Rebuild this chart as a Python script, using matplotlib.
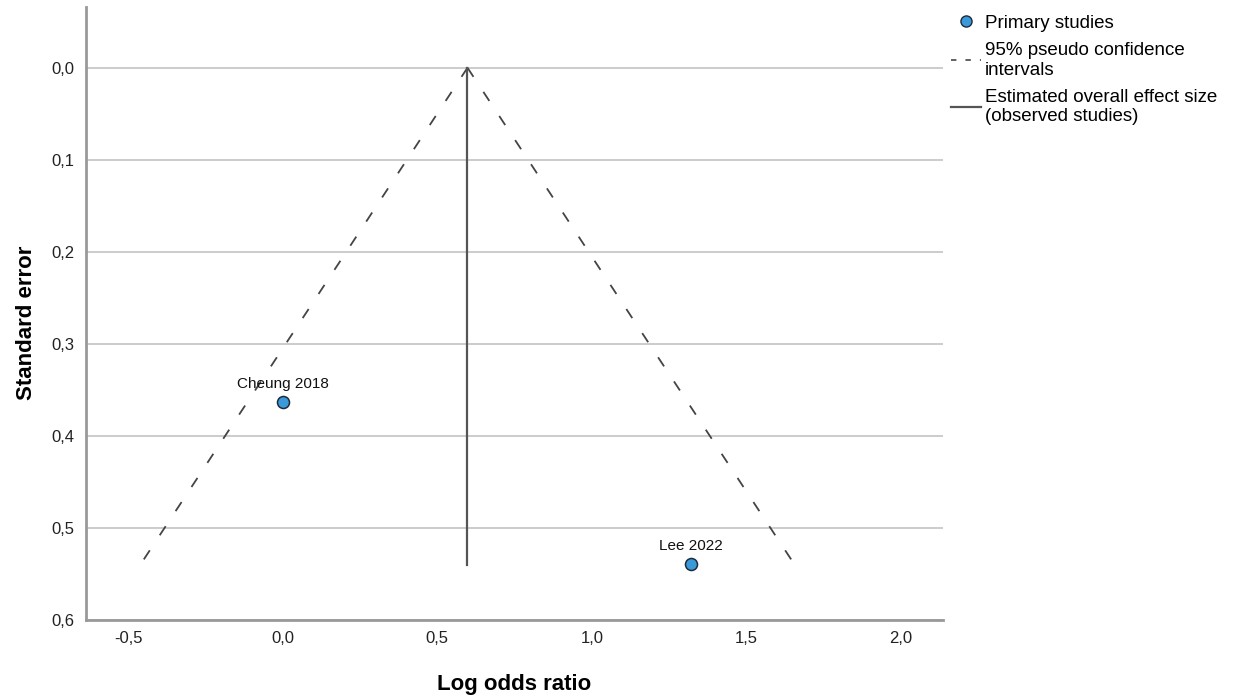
import numpy as np
import matplotlib.pyplot as plt
from matplotlib.lines import Line2D

plt.rcParams['font.family'] = ['Liberation Sans', 'DejaVu Sans']

# study estimates (log odds ratio, standard error)
studies = ["Cheung 2018", "Lee 2022"]
log_or = [0.0, 1.32]
se = [0.363, 0.539]

# pooled estimate and funnel depth
pooled = 0.598
max_se = 0.54

xticks = [-0.5, 0.0, 0.5, 1.0, 1.5, 2.0]
yticks = [0.0, 0.1, 0.2, 0.3, 0.4, 0.5, 0.6]

def comma(v):
    return f"{v:.1f}".replace(".", ",")

fig = plt.figure(figsize=(12.46, 6.98), dpi=100)
ax = fig.add_axes([0.069, 0.1117, 0.6878, 0.8783])

grid_c = "#c4c4c4"
for t in yticks:
    ax.axhline(t, color=grid_c, lw=1.2, zorder=0)

# pseudo 95% confidence limits
se_line = np.array([0.0, max_se])
dash = (0, (6, 10))
ax.plot(pooled - 1.96 * se_line, se_line, color="#444444", lw=1.3, linestyle=dash, zorder=2)
ax.plot(pooled + 1.96 * se_line, se_line, color="#444444", lw=1.3, linestyle=dash, zorder=2)
ax.plot([pooled, pooled], [0.0, max_se], color="#555555", lw=1.6, zorder=2)

ax.scatter(log_or, se, s=75, color="#3a9ad9", edgecolor="#1d2b3a", linewidth=1.1, zorder=3)
for name, x, y in zip(studies, log_or, se):
    ax.annotate(name, (x, y), xytext=(0, 8), textcoords="offset points",
                ha="center", va="bottom", fontsize=11, color="#111111")

ax.set_xlim(-0.636, 2.136)
ax.set_ylim(0.6, -0.066)
ax.set_xticks(xticks)
ax.set_xticklabels([comma(v) for v in xticks], fontsize=12, color="#222222")
ax.set_yticks(yticks)
ax.set_yticklabels([comma(v) for v in yticks], fontsize=12, color="#222222")
ax.tick_params(length=0, pad=8)

for side in ["top", "right"]:
    ax.spines[side].set_visible(False)
for side in ["left", "bottom"]:
    ax.spines[side].set_color("#999999")
    ax.spines[side].set_linewidth(2)

ax.set_xlabel("Log odds ratio", fontsize=16, fontweight="bold")
ax.set_ylabel("Standard error", fontsize=16, fontweight="bold")
ax.xaxis.set_label_coords(0.5, -0.088)
ax.yaxis.set_label_coords(-0.057, 0.485)

handles = [
    Line2D([], [], marker="o", linestyle="none", markersize=8,
           markerfacecolor="#3a9ad9", markeredgecolor="#1d2b3a"),
    Line2D([], [], color="#555555", lw=1.3, linestyle=(0, (3, 5))),
    Line2D([], [], color="#555555", lw=1.6),
]
labels = ["Primary studies", "95% pseudo confidence\nintervals",
          "Estimated overall effect size\n(observed studies)"]
leg = fig.legend(handles, labels, loc="upper left", bbox_to_anchor=(0.753, 0.998),
                 frameon=False, fontsize=13.5, handlelength=1.6, handletextpad=0.2,
                 labelspacing=0.55, borderpad=0.2)

fig.savefig("out.png", dpi=100)
